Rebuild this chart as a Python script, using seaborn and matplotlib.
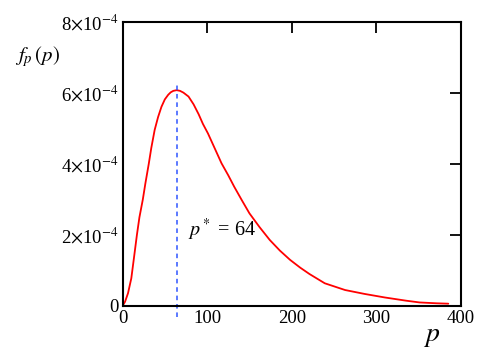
import matplotlib
matplotlib.use("Agg")
import matplotlib.pyplot as plt
import seaborn as sns
import pandas as pd

# values (p, f_p(p) in units of 1e-4)
p_vals = [0, 3, 6.5, 10.4, 13.5, 17, 20, 24, 27, 31, 34, 38, 42, 46, 50, 54,
          57, 60, 64, 68, 72, 78, 84, 90, 95, 101, 109, 117, 125, 132, 141,
          150, 162, 174, 186, 198, 210, 221, 239, 263, 286, 310, 335, 351,
          371, 385]
f_vals = [0, 0.12, 0.36, 0.78, 1.35, 2.0, 2.5, 3.0, 3.45, 4.0, 4.45, 4.96,
          5.32, 5.61, 5.82, 5.95, 6.02, 6.06, 6.08, 6.06, 6.01, 5.9, 5.68,
          5.4, 5.13, 4.86, 4.44, 4.02, 3.68, 3.36, 2.98, 2.61, 2.22, 1.86,
          1.56, 1.30, 1.08, 0.90, 0.64, 0.45, 0.34, 0.24, 0.15, 0.10, 0.076,
          0.065]
p_star = 64
x_ticks = [0, 100, 200, 300, 400]
y_ticks = [0, 2e-4, 4e-4, 6e-4, 8e-4]
y_tick_labels = ["0", r"2$\times$10$^{-4}$", r"4$\times$10$^{-4}$",
                 r"6$\times$10$^{-4}$", r"8$\times$10$^{-4}$"]

df = pd.DataFrame({"p": p_vals, "f": [v * 1e-4 for v in f_vals]})

sns.set_style("white")
plt.rcParams["font.family"] = ["Liberation Serif", "DejaVu Serif"]
plt.rcParams["mathtext.fontset"] = "stix"
plt.rcParams["text.color"] = "black"

fig = plt.figure(figsize=(4.85, 3.52), dpi=100)
ax = fig.add_axes([0.2526, 0.1307, 0.6979, 0.8068])

sns.lineplot(data=df, x="p", y="f", color="red", linewidth=1.3, ax=ax)
ax.plot([p_star, p_star], [-0.31e-4, 6.32e-4], color="#2f55ff",
        linestyle=(0, (3, 2.5)), linewidth=1.1, clip_on=False)

ax.set_xlim(0, 400)
ax.set_ylim(0, 8e-4)
ax.set_xticks(x_ticks)
ax.set_xticklabels([str(t) for t in x_ticks])
ax.set_yticks(y_ticks)
ax.set_yticklabels(y_tick_labels)
ax.tick_params(direction="in", length=8, width=1.3, top=True, right=True,
               labelsize=13.5, pad=3, colors="black", labelcolor="black")
for s in ax.spines.values():
    s.set_linewidth(1.5)
    s.set_color("black")

ax.set_xlabel("")
ax.set_ylabel("")
ax.text(77, 2.14e-4, r"$p^*$ = 64", fontsize=14.5, va="center", ha="left")
fig.text(0.03, 0.838, r"$f_p\,(p)$", fontsize=15, va="center", ha="left")
fig.text(0.89, 0.043, r"$p$", fontsize=20, va="center", ha="center")

fig.savefig("out.png", dpi=100)
